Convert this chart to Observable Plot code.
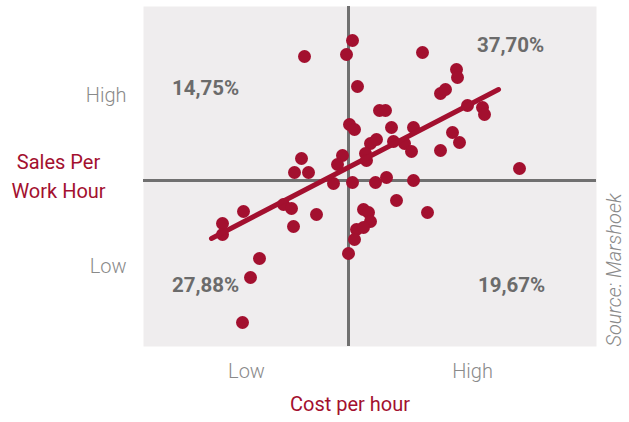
<!DOCTYPE html>
<html>
<head>
<meta charset="utf-8">
<script src="https://cdn.jsdelivr.net/npm/d3@7"></script>
<script src="https://cdn.jsdelivr.net/npm/@observablehq/plot@0.6"></script>
<style>
  html, body { margin: 0; padding: 0; background: #ffffff; }
  #chart svg { display: block; }
</style>
</head>
<body>
<div id="chart"></div>
<script>
// Cost per hour (x) and sales per work hour (y), relative to the centre cross
const costX = [4, -2, -44, 74, 9, 108, 109, 92, 97, 31, 37, 119, 134, 136, 1, 6, 43, 65, 104, 111,
  22, 28, 45, 56, 63, 92, 17, 18, -6, -11, -47, -54, -40, -15, 4, 27, 38, 65, 48, 79,
  15, 20, 22, 8, 15, 6, 0, 171, -105, -126, -126, -65, -57, -55, -32, -89, -98, -106];
const salesY = [140, 126, 124, 128, 94, 111, 103, 87, 91, 70, 70, 75, 73, 66, 56, 51, 53, 53, 48, 38,
  37, 41, 39, 37, 29, 30, 27, 20, 25, 16, 22, 8, 8, -3, -2, -2, 3, 0, -20, -32,
  -29, -32, -41, -49, -47, -59, -73, 12, -31, -43, -54, -24, -28, -46, -34, -78, -97, -142];
// trend line end points
const trendX = [-137, 150];
const trendY = [-58, 91];
// axis ticks
const xTickValues = [-102, 124];
const xTickLabels = ["Low", "High"];
const yTickValues = [-86, 85];
const yTickLabels = ["Low", "High"];
// quadrant shares
const quadLabels = ["14,75%", "37,70%", "27,88%", "19,67%"];
const quadX = [-143, 162, -143, 163];
const quadY = [92, 135, -105, -105];

const points = costX.map((x, i) => ({x, y: salesY[i]}));
const trend = trendX.map((x, i) => ({x, y: trendY[i]}));
const quads = quadLabels.map((t, i) => ({t, x: quadX[i], y: quadY[i]}));

const red = "#a3102f";
const font = "Roboto, 'Noto Sans', sans-serif";

const chart = Plot.plot({
  width: 629,
  height: 422,
  marginLeft: 143,
  marginRight: 33,
  marginTop: 6,
  marginBottom: 76,
  style: {fontFamily: font, background: "#ffffff", overflow: "visible"},
  x: {domain: [-205, 248]},
  y: {domain: [-166, 174]},
  marks: [
    Plot.frame({fill: "#efedee", stroke: null}),
    Plot.ruleX([0], {stroke: "#707070", strokeWidth: 3}),
    Plot.ruleY([0], {stroke: "#707070", strokeWidth: 3}),
    Plot.dot(points, {x: "x", y: "y", r: 6.5, fill: red, stroke: null}),
    Plot.line(trend, {x: "x", y: "y", stroke: red, strokeWidth: 5, strokeLinecap: "round"}),
    Plot.text(quads, {x: "x", y: "y", text: "t", fill: "#6b6b6b", fontSize: 20.5, fontWeight: 700}),
    Plot.axisX(xTickValues, {tickSize: 0, tickPadding: 17, tickFormat: (d, i) => xTickLabels[i],
      fontSize: 20, fontWeight: 300, color: "#8a8a8a", label: null}),
    Plot.axisY(yTickValues, {tickSize: 0, tickPadding: 17, tickFormat: (d, i) => yTickLabels[i],
      fontSize: 20, fontWeight: 300, color: "#8a8a8a", label: null}),
    Plot.text(["Sales Per\nWork Hour"], {frameAnchor: "left", dx: -85, dy: -2, textAnchor: "middle",
      lineHeight: 1.45, fill: red, fontSize: 20}),
    Plot.text(["Cost per hour"], {frameAnchor: "bottom", dx: -20, dy: 64, textAnchor: "middle",
      fill: red, fontSize: 20}),
    Plot.text(["Source: Marshoek"], {frameAnchor: "bottom-right", dx: 24, rotate: -90,
      textAnchor: "start", fill: "#8a8a8a", fontSize: 20, fontStyle: "italic", fontWeight: 300})
  ]
});
document.getElementById("chart").appendChild(chart);
</script>
</body>
</html>
